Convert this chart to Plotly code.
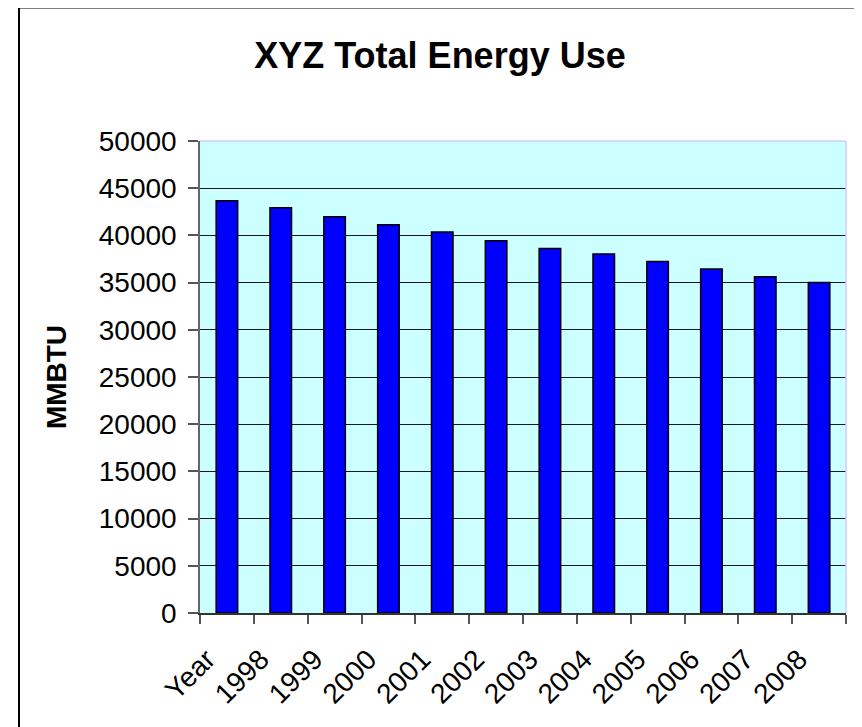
import plotly.graph_objects as go

categories = ["Year", "1998", "1999", "2000", "2001", "2002", "2003", "2004", "2005", "2006", "2007", "2008"]
energy_mmbtu = [43660, 42920, 41970, 41120, 40350, 39430, 38620, 38020, 37240, 36440, 35620, 35020]
y_ticks = [0, 5000, 10000, 15000, 20000, 25000, 30000, 35000, 40000, 45000, 50000]

OFF = 8  # page body margin
W, H = 862 - OFF, 727 - OFF
L, R, T, B = 200 - OFF, 846 - OFF, 141 - OFF, 613 - OFF

fig = go.Figure()
fig.add_trace(go.Bar(
    x=categories, y=energy_mmbtu,
    marker=dict(color="#0000FF", line=dict(color="#000000", width=1.5)),
    width=0.4,
))

def px_x(px):
    return (px - OFF - L) / (R - L)

def px_y(py):
    return (B - (py - OFF)) / (B - T)

fig.update_layout(
    width=W, height=H,
    margin=dict(l=L, r=W - R, t=T, b=H - B, pad=0),
    paper_bgcolor="white",
    plot_bgcolor="#CCFFFF",
    showlegend=False,
    font=dict(family="Liberation Sans, Arial, sans-serif", color="black"),
    title=dict(text="<b>XYZ Total Energy Use</b>", font=dict(size=36, color="black"),
               x=(440 - OFF) / W, xref="container", xanchor="center",
               y=1 - (55 - OFF) / H, yref="container", yanchor="middle"),
    xaxis=dict(
        type="category", tickangle=-45, tickfont=dict(size=28),
        ticks="outside", ticklen=9, tickcolor="#555555", tickwidth=1.5,
        tickson="boundaries", showline=True, linecolor="#333333", linewidth=1.5,
        showgrid=False, ticklabelshift=-20, ticklabelstandoff=17,
    ),
    yaxis=dict(
        range=[0, 50000], tickvals=y_ticks, tickformat="d", tickfont=dict(size=28),
        ticks="outside", ticklen=10, tickcolor="#555555", tickwidth=1.5,
        showline=True, linecolor="#666666", linewidth=1.5, ticklabelstandoff=6,
        showgrid=True, gridcolor="#1a1a1a", gridwidth=1,
        title=dict(text="<b>MMBTU</b>", font=dict(size=28), standoff=24),
        zeroline=False,
    ),
    shapes=[
        dict(type="rect", xref="paper", yref="paper",
             x0=px_x(19), x1=px_x(856), y0=px_y(7.5), y1=px_y(740),
             line=dict(color="black", width=2), fillcolor="rgba(0,0,0,0)", layer="above"),
        dict(type="line", xref="paper", yref="paper",
             x0=0, x1=1, y0=1, y1=1,
             line=dict(color="#CCCCFF", width=1.5)),
        dict(type="line", xref="paper", yref="paper",
             x0=1, x1=1, y0=0, y1=1,
             line=dict(color="#CCCCFF", width=1.5)),
    ],
)

fig.write_html("out.html")
